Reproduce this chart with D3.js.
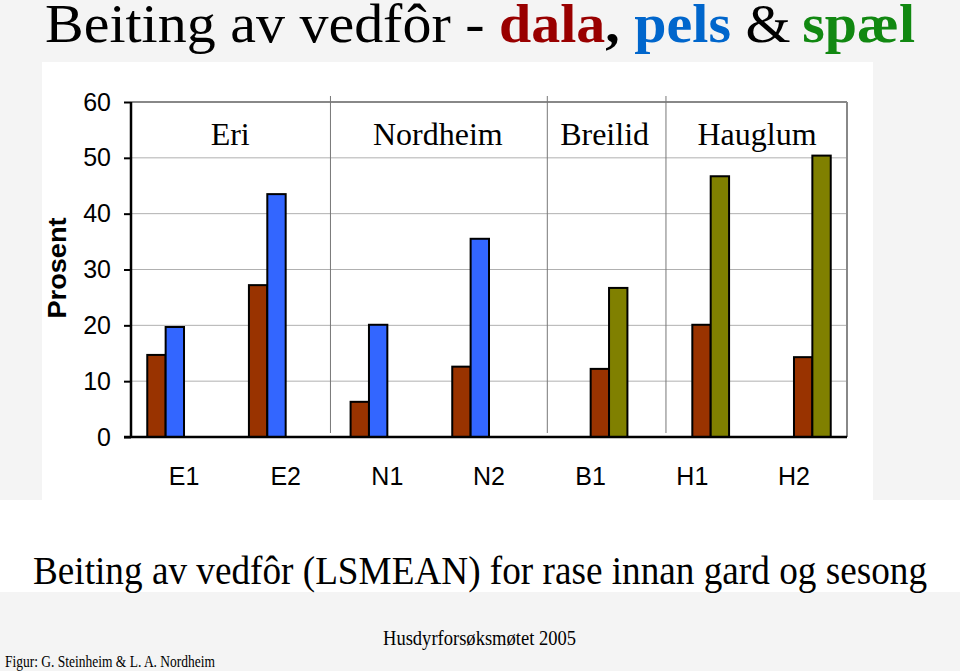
<!DOCTYPE html>
<html><head><meta charset="utf-8">
<script src="https://cdn.jsdelivr.net/npm/d3@7"></script>
<style>html,body{margin:0;padding:0;background:#f4f4f4;}svg{display:block;}</style>
</head><body>
<script>
// ---- data ----
const categories = ["E1","E2","N1","N2","B1","H1","H2"];
const seriesNames = ["dala (Eri/Nordheim)","pels","dala (Breilid/Hauglum)","spæl"];
const dalaEN  = [14.7, 27.2, 6.3, 12.6, null, null, null];
const pels    = [19.7, 43.5, 20.1, 35.5, null, null, null];
const dalaBH  = [null, null, null, null, 12.2, 20.1, 14.3];
const spael   = [null, null, null, null, 26.7, 46.7, 50.4];
const seriesColors = ["#993300","#3366ff","#993300","#808000"];
const yTicks = [0,10,20,30,40,50,60];
const farms = ["Eri","Nordheim","Breilid","Hauglum"];
const farmSeparators = [1.95, 4.07, 5.23]; // in category units
const farmLabelPos = [0.97, 3.0, 4.63, 6.12];

(function(){
const W=960,H=671;
const svg=d3.select("body").append("svg").attr("width",W).attr("height",H);
svg.append("rect").attr("width",W).attr("height",H).attr("fill","#f4f4f4");
svg.append("rect").attr("x",42).attr("y",62).attr("width",831).attr("height",438).attr("fill","#ffffff");
svg.append("rect").attr("x",0).attr("y",500).attr("width",W).attr("height",92).attr("fill","#ffffff");

const pL=131,pR=847,pT=102,pB=437;
const x0=d3.scaleBand().domain(categories).range([pL,pR]).paddingInner(0.277).paddingOuter(0.16);
const x1=d3.scaleBand().domain(d3.range(4)).range([0,x0.bandwidth()]);
const y=d3.scaleLinear().domain([0,60]).range([pB,pT]);
const xu=d3.scaleLinear().domain([0,categories.length]).range([pL,pR]);

// gridlines
svg.append("g").selectAll("line").data(yTicks.filter(t=>t>0&&t<60)).join("line")
  .attr("x1",pL).attr("x2",pR).attr("y1",d=>y(d)).attr("y2",d=>y(d))
  .attr("stroke","#b0b0b0").attr("stroke-width",1);
// top & right border
svg.append("line").attr("x1",pL).attr("x2",pR).attr("y1",y(60)).attr("y2",y(60)).attr("stroke","#888").attr("stroke-width",2);
svg.append("line").attr("x1",pR).attr("x2",pR).attr("y1",y(60)).attr("y2",y(0)).attr("stroke","#888").attr("stroke-width",2);
// farm separators
svg.append("g").selectAll("line").data(farmSeparators).join("line")
  .attr("x1",d=>xu(d)).attr("x2",d=>xu(d)).attr("y1",96).attr("y2",433)
  .attr("stroke","#777").attr("stroke-width",1);
// farm labels
svg.append("g").selectAll("text").data(farms).join("text")
  .attr("x",(d,i)=>xu(farmLabelPos[i])).attr("y",145).attr("text-anchor","middle")
  .attr("font-family","Liberation Serif, Times New Roman, serif").attr("font-size",32).attr("fill","#000")
  .text(d=>d);

// bars
const allSeries=[dalaEN,pels,dalaBH,spael];
const barData=[];
categories.forEach((c,i)=>allSeries.forEach((s,j)=>{ if(s[i]!=null) barData.push({c,j,v:s[i]}); }));
svg.append("g").selectAll("rect").data(barData).join("rect")
  .attr("x",d=>x0(d.c)+x1(d.j)).attr("width",x1.bandwidth())
  .attr("y",d=>y(d.v)).attr("height",d=>y(0)-y(d.v))
  .attr("fill",d=>seriesColors[d.j]).attr("stroke","#000").attr("stroke-width",2);

// y axis
const yAxis=svg.append("g").attr("transform",`translate(${pL},0)`)
  .call(d3.axisLeft(y).tickValues(yTicks).tickSize(7).tickPadding(13));
yAxis.select(".domain").attr("stroke","#000").attr("stroke-width",2.5).attr("d",`M0,${pT}V${pB}`);
yAxis.selectAll(".tick line").attr("stroke","#000").attr("stroke-width",2);
yAxis.selectAll(".tick text").attr("font-family","Liberation Sans, Arial, sans-serif").attr("font-size",25).attr("fill","#000");
// x axis
const xAxis=svg.append("g").attr("transform",`translate(0,${pB})`)
  .call(d3.axisBottom(x0).tickSize(0).tickPadding(30));
xAxis.select(".domain").attr("stroke","#000").attr("stroke-width",2.5).attr("d",`M${pL-7},0H${pR}`);
xAxis.selectAll(".tick text").attr("font-family","Liberation Sans, Arial, sans-serif").attr("font-size",25).attr("fill","#000");

// y label
svg.append("text").attr("transform","translate(66,268) rotate(-90)").attr("text-anchor","middle")
  .attr("font-family","Liberation Sans, Arial, sans-serif").attr("font-weight","bold").attr("font-size",25)
  .attr("textLength",101).attr("lengthAdjust","spacingAndGlyphs").text("Prosent");

// title
const t=svg.append("text").attr("x",45).attr("y",42)
  .attr("font-family","Liberation Serif, Times New Roman, serif").attr("font-size",55)
  .attr("textLength",870).attr("lengthAdjust","spacingAndGlyphs");
t.append("tspan").attr("fill","#000").text("Beiting av vedfôr - ");
t.append("tspan").attr("fill","#990000").attr("font-weight","bold").text("dala");
t.append("tspan").attr("fill","#000").attr("font-weight","bold").text(", ");
t.append("tspan").attr("fill","#0066cc").attr("font-weight","bold").text("pels");
t.append("tspan").attr("fill","#000").text(" &\u2009");
t.append("tspan").attr("fill","#118811").attr("font-weight","bold").text("spæl");

// subtitle
svg.append("text").attr("x",33).attr("y",584)
  .attr("font-family","Liberation Serif, Times New Roman, serif").attr("font-size",39)
  .attr("textLength",894).attr("lengthAdjust","spacingAndGlyphs")
  .text("Beiting av vedfôr (LSMEAN) for rase innan gard og sesong");
// footers
svg.append("text").attr("x",383).attr("y",645)
  .attr("font-family","Liberation Serif, Times New Roman, serif").attr("font-size",21)
  .attr("textLength",193).attr("lengthAdjust","spacingAndGlyphs").text("Husdyrforsøksmøtet 2005");
svg.append("text").attr("x",5).attr("y",667)
  .attr("font-family","Liberation Serif, Times New Roman, serif").attr("font-size",16)
  .attr("textLength",210).attr("lengthAdjust","spacingAndGlyphs").text("Figur: G. Steinheim & L. A. Nordheim");
})();
</script>
</body></html>
